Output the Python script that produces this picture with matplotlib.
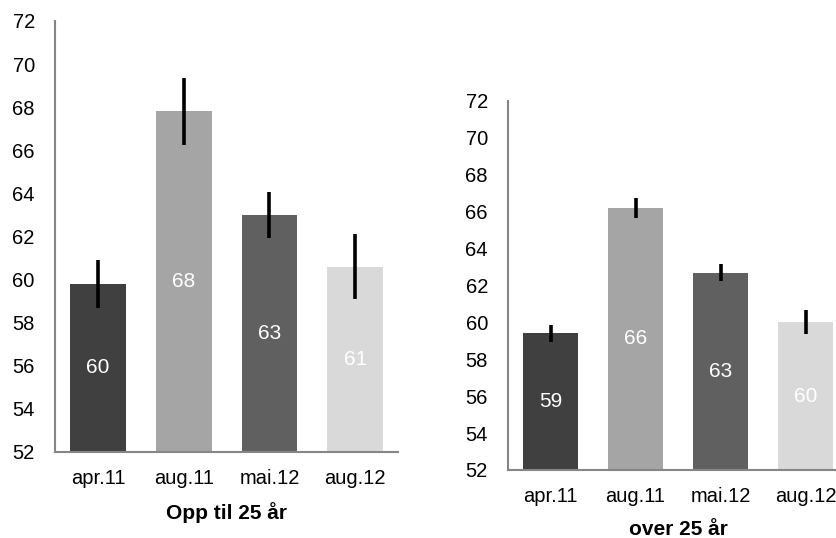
import matplotlib
matplotlib.use("Agg")
import matplotlib.pyplot as plt
import numpy as np

plt.rcParams['font.family'] = ['Liberation Sans', 'DejaVu Sans']

categories = ['apr.11', 'aug.11', 'mai.12', 'aug.12']
bar_colors = ['#404040', '#a5a5a5', '#606060', '#d9d9d9']

# Opp til 25 år
young_vals = [59.8, 67.8, 63.0, 60.6]
young_err = [1.1, 1.55, 1.08, 1.5]
young_labels = ['60', '68', '63', '61']

# over 25 år
old_vals = [59.4, 66.2, 62.7, 60.0]
old_err = [0.45, 0.55, 0.45, 0.65]
old_labels = ['59', '66', '63', '60']

yticks = np.arange(52, 73, 2)
spine_color = '#868686'

fig = plt.figure(figsize=(8.36, 5.38), dpi=100)
ax1 = fig.add_axes([0.0658, 0.1599, 0.4103, 0.8011])
ax2 = fig.add_axes([0.6077, 0.1264, 0.4067, 0.6859])


def draw_panel(ax, vals, errs, labels, title):
    x = np.arange(len(categories))
    ax.bar(x, [v - 52 for v in vals], bottom=52, width=0.65, color=bar_colors)
    ax.errorbar(x, vals, yerr=errs, fmt='none', ecolor='black', elinewidth=2.6, capsize=0)
    for xi, v, lab in zip(x, vals, labels):
        ax.text(xi, (52 + v) / 2, lab, ha='center', va='center', color='white', fontsize=15)
    ax.set_xlim(-0.5, 3.5)
    ax.set_ylim(52, 72)
    ax.set_yticks(yticks)
    ax.set_xticks(x)
    ax.set_xticklabels(categories)
    ax.tick_params(axis='both', length=0, labelsize=14.5, colors='black')
    ax.tick_params(axis='y', pad=14.5)
    ax.tick_params(axis='x', pad=12)
    ax.spines['top'].set_visible(False)
    ax.spines['right'].set_visible(False)
    ax.spines['left'].set_color(spine_color)
    ax.spines['bottom'].set_color(spine_color)
    ax.spines['left'].set_linewidth(1.5)
    ax.spines['bottom'].set_linewidth(1.5)
    ax.set_xlabel(title, fontsize=15, fontweight='bold', labelpad=10)


draw_panel(ax1, young_vals, young_err, young_labels, 'Opp til 25 år')
draw_panel(ax2, old_vals, old_err, old_labels, 'over 25 år')

fig.savefig('out.png', dpi=100, facecolor='white')
